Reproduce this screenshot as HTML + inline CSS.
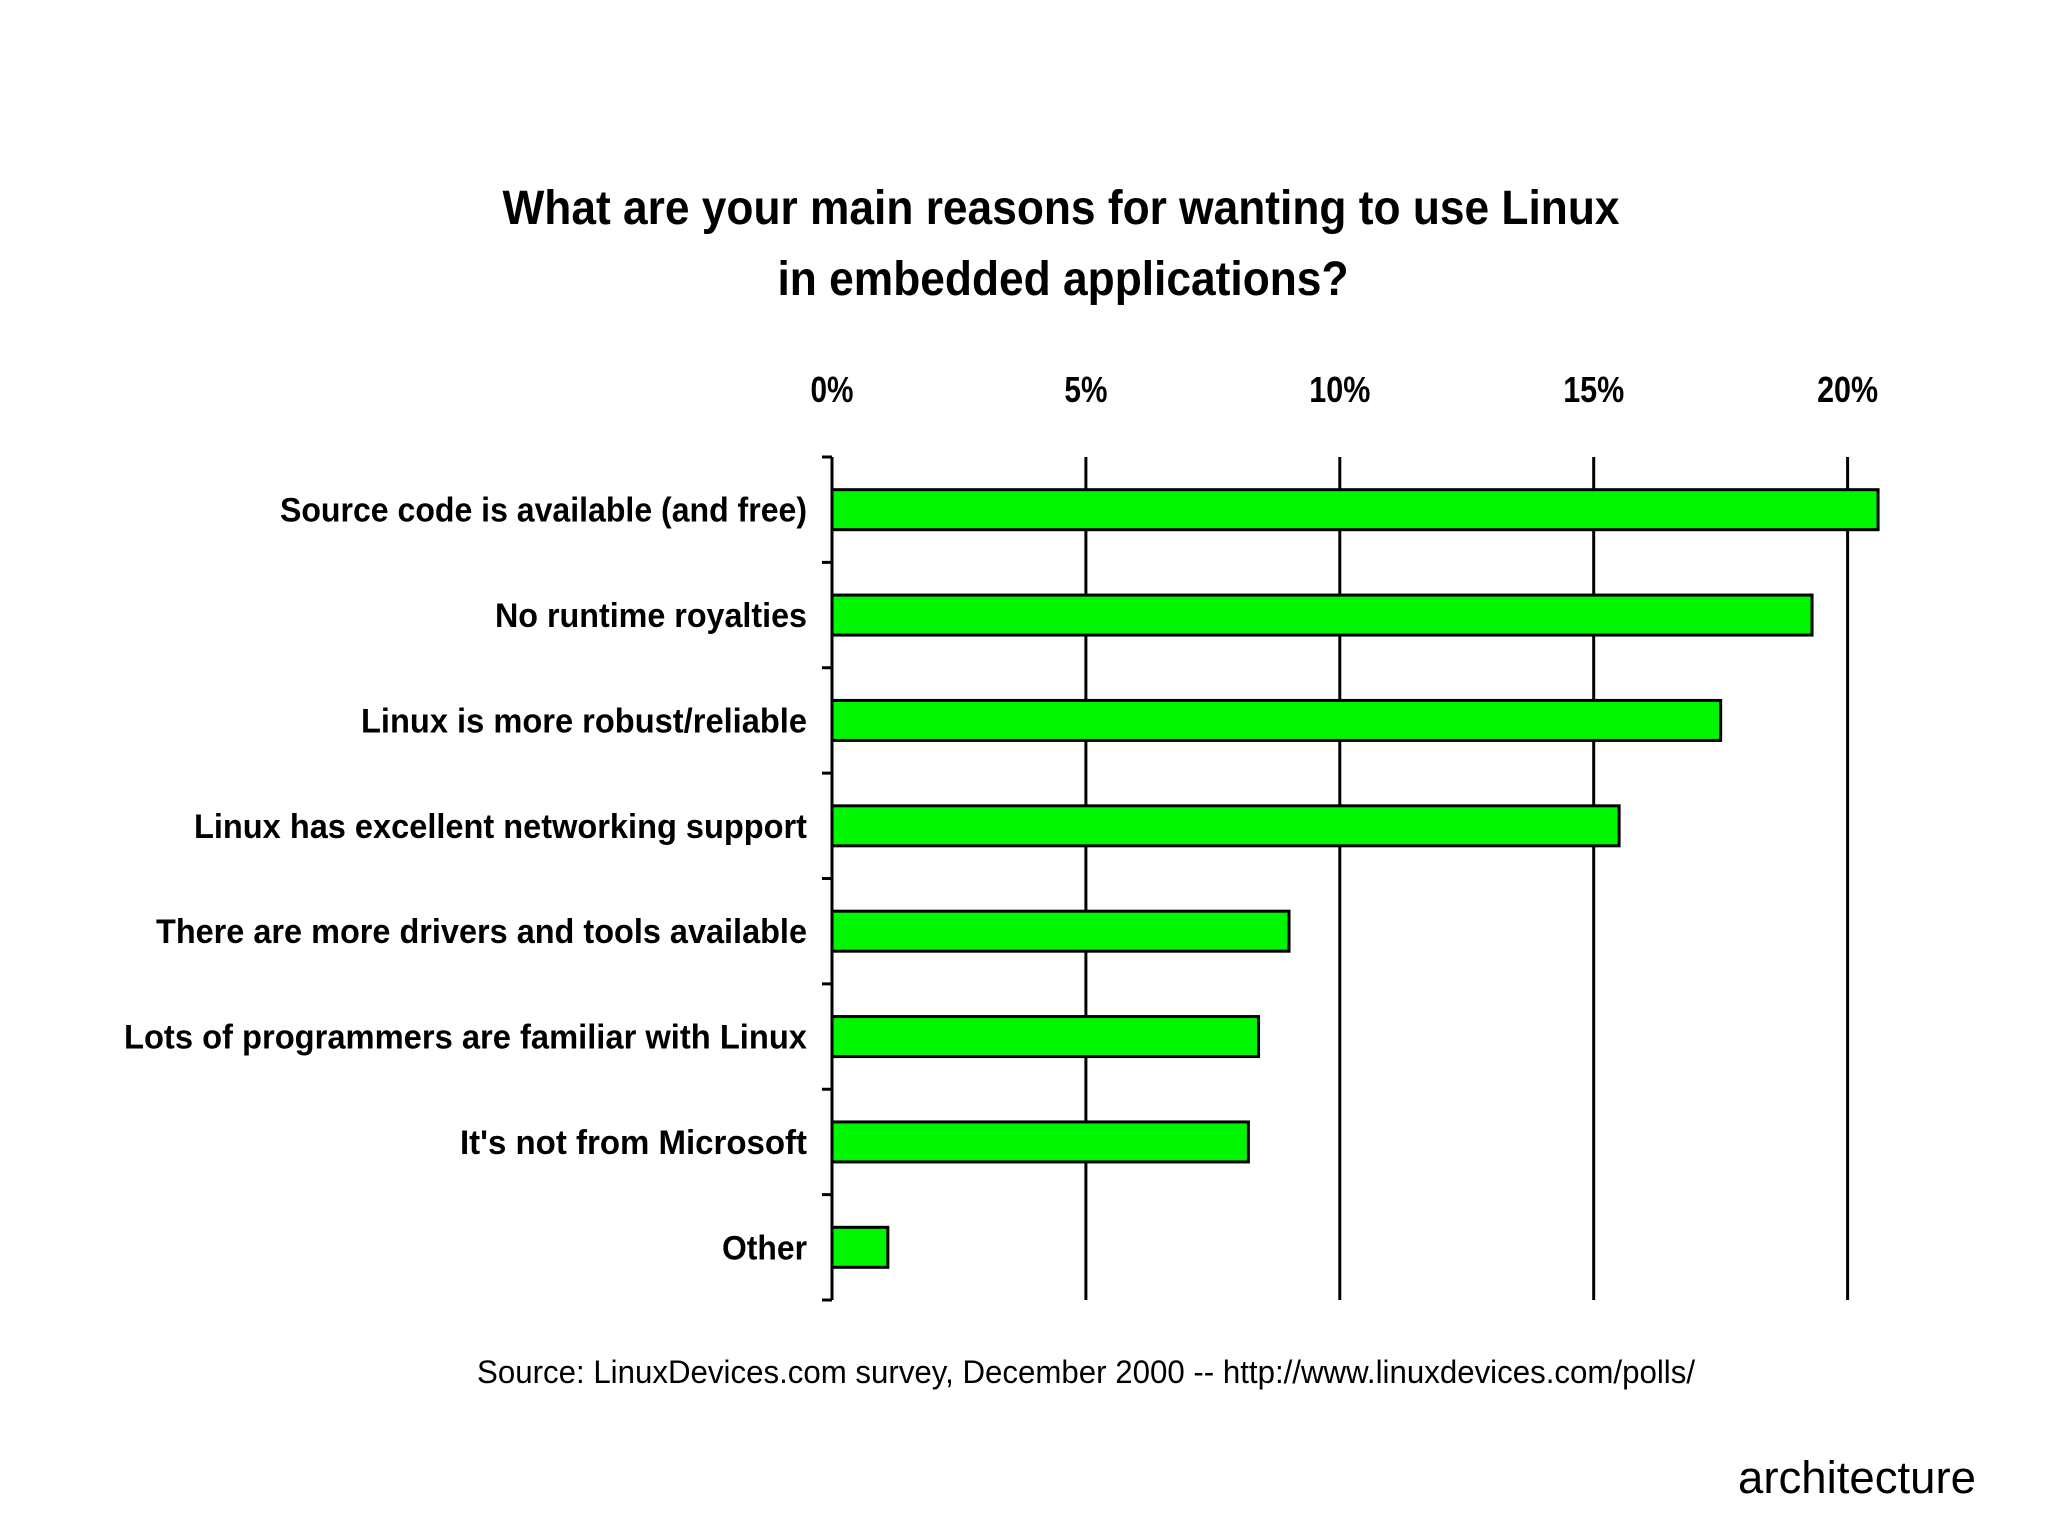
<!DOCTYPE html>
<html><head><meta charset="utf-8"><style>
html,body{margin:0;padding:0;background:#fff;}
svg{display:block;font-family:"Liberation Sans",Arial,sans-serif;}
</style></head><body>
<svg id="chart" width="2048" height="1535" viewBox="0 0 2048 1535" xmlns="http://www.w3.org/2000/svg">
<rect width="2048" height="1535" fill="#fff"/>
<text x="1061" y="224" text-anchor="middle" font-size="48" font-weight="bold" textLength="1117" lengthAdjust="spacingAndGlyphs">What are your main reasons for wanting to use Linux</text>
<text x="1063" y="295" text-anchor="middle" font-size="48" font-weight="bold" textLength="571" lengthAdjust="spacingAndGlyphs">in embedded applications?</text>
<g id="grid"></g><g id="bars"></g><g id="labels"></g>
<text x="477" y="1383" font-size="32" textLength="1218" lengthAdjust="spacingAndGlyphs">Source:  LinuxDevices.com survey, December 2000 -- http://www.linuxdevices.com/polls/</text>
<text x="1976" y="1493" text-anchor="end" font-size="45" textLength="238" lengthAdjust="spacingAndGlyphs">architecture</text>
</svg>
<script>
const categories=["Source code is available (and free)","No runtime royalties","Linux is more robust/reliable","Linux has excellent networking support","There are more drivers and tools available","Lots of programmers are familiar with Linux","It's not from Microsoft","Other"];
const values=[20.6,19.3,17.5,15.5,9.0,8.4,8.2,1.1];
const ticks=[0,5,10,15,20];
const tickLabels=["0%","5%","10%","15%","20%"];
const labelWidths=[527,312,446,613,651,683,347,85];
const NS="http://www.w3.org/2000/svg";
const x0=832,pxPer=253.9/5,yTop=457,yBottom=1300;
const band=(yBottom-yTop)/categories.length;
const xs=v=>x0+v*pxPer;
function mk(t,a,p){const e=document.createElementNS(NS,t);for(const k in a)e.setAttribute(k,a[k]);p.appendChild(e);return e;}
const g=document.getElementById('grid'),b=document.getElementById('bars'),l=document.getElementById('labels');
ticks.forEach((t,i)=>{
 const ln=mk('line',{x1:xs(t),x2:xs(t),y1:yTop,y2:yBottom,stroke:'#000','stroke-width':3},g);
 
 
 const tx=mk('text',{x:xs(t),y:402,'text-anchor':'middle','font-size':36,'font-weight':'bold',textLength:(t<10?43:61),lengthAdjust:'spacingAndGlyphs'},g);
 tx.textContent=tickLabels[i];
 
 
});
for(let i=0;i<=categories.length;i++){
 const y=yTop+i*band;
 const tk=mk('line',{x1:x0-10,x2:x0,y1:y,y2:y,stroke:'#000','stroke-width':3},g);
 
 
}
categories.forEach((c,i)=>{
 const cy=yTop+band*(i+0.5);
 const r=mk('rect',{x:x0,y:cy-20,width:xs(values[i])-x0,height:40,fill:'#00f500',stroke:'#000','stroke-width':3},b);
 
 
 const t=mk('text',{x:807,y:cy+12,'text-anchor':'end','font-size':34,'font-weight':'bold',textLength:labelWidths[i],lengthAdjust:'spacingAndGlyphs'},l);
 t.textContent=c;
 
 
});
</script>
</body></html>
